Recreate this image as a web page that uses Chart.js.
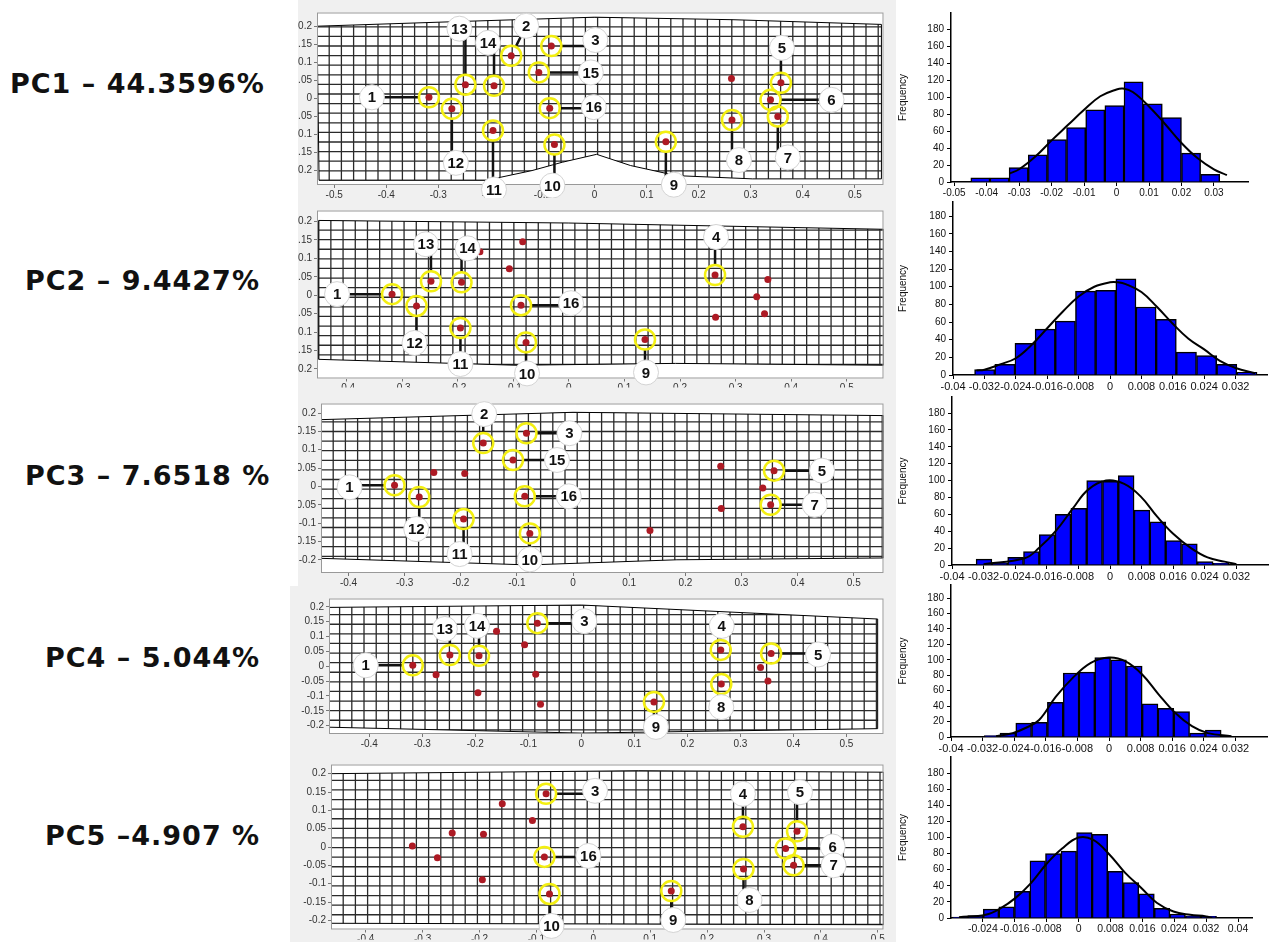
<!DOCTYPE html>
<html lang="en">
<head>
<meta charset="UTF-8">
<title>PC deformation grids and score histograms</title>
<script src="https://cdn.jsdelivr.net/npm/chart.js"></script>
<style>
  body { margin: 0; background: #fff; width: 1274px; height: 942px; position: relative; overflow: hidden; }
  .pc { position: absolute; font-family: "DejaVu Sans", sans-serif; font-weight: bold; font-size: 27px;
        letter-spacing: 1px; color: #111; white-space: nowrap; line-height: 1; transform: translateY(-50%); }
  canvas { position: absolute; display: block; }
</style>
</head>
<body>
<div class="pc" style="left:10px;top:83px">PC1 – 44.3596%</div>
<div class="pc" style="left:25px;top:280px">PC2 – 9.4427%</div>
<div class="pc" style="left:25px;top:475px">PC3 – 7.6518 %</div>
<div class="pc" style="left:45px;top:657px">PC4 – 5.044%</div>
<div class="pc" style="left:45px;top:835px">PC5 –4.907 %</div>

<script>
// landmark configuration (same 16 landmarks in every panel)
const landmarkX = [-0.318, -0.16, -0.083, 0.263, 0.358, 0.338, 0.352, 0.264, 0.137, -0.077, -0.195, -0.274, -0.248, -0.193, -0.107, -0.086];
const landmarkY = [0.003, 0.118, 0.145, 0.055, 0.043, -0.004, -0.05, -0.06, -0.12, -0.128, -0.089, -0.029, 0.038, 0.035, 0.072, -0.027];

// landmarks circled in each PC
const pc1Marked = [1, 2, 3, 5, 6, 7, 8, 9, 10, 11, 12, 13, 14, 15, 16];
const pc2Marked = [1, 4, 9, 10, 11, 12, 13, 14, 16];
const pc3Marked = [1, 2, 3, 5, 7, 10, 11, 12, 15, 16];
const pc4Marked = [1, 3, 4, 5, 8, 9, 13, 14];
const pc5Marked = [3, 4, 5, 6, 7, 8, 9, 10, 16];

// outline of the deformed grid in each PC
const pc1Mesh = [[-0.533, 0.2], [-0.281, 0.212], [0, 0.225], [0.266, 0.218], [0.551, 0.205], [0.551, -0.223], [0.303, -0.223], [0.157, -0.214], [0.069, -0.186], [0.004, -0.155], [-0.062, -0.177], [-0.12, -0.2], [-0.208, -0.227], [-0.529, -0.227]];
const pc2Mesh = [[-0.45, 0.203], [0, 0.196], [0.566, 0.179], [0.566, -0.19], [0.192, -0.185], [-0.095, -0.19], [-0.45, -0.174]];
const pc3Mesh = [[-0.449, 0.182], [0, 0.202], [0.553, 0.193], [0.553, -0.195], [0.185, -0.2], [-0.079, -0.214], [-0.449, -0.196]];
const pc4Mesh = [[-0.479, 0.198], [0, 0.206], [0.559, 0.159], [0.559, -0.21], [0, -0.225], [-0.479, -0.205]];
const pc5Mesh = [[-0.461, 0.2], [0.079, 0.208], [0.51, 0.204], [0.51, -0.212], [-0.461, -0.208]];

// tick labels
const gridTicksX1 = [-0.5, -0.4, -0.3, -0.2, -0.1, 0, 0.1, 0.2, 0.3, 0.4, 0.5];
const gridTicksX = [-0.4, -0.3, -0.2, -0.1, 0, 0.1, 0.2, 0.3, 0.4, 0.5];
const gridTicksY = [-0.2, -0.15, -0.1, -0.05, 0, 0.05, 0.1, 0.15, 0.2];
const hist1TicksX = [-0.05, -0.04, -0.03, -0.02, -0.01, 0, 0.01, 0.02, 0.03];
const histTicksX = [-0.04, -0.032, -0.024, -0.016, -0.008, 0, 0.008, 0.016, 0.024, 0.032];
const hist5TicksX = [-0.024, -0.016, -0.008, 0, 0.008, 0.016, 0.024, 0.032, 0.04];
const histTicksY = [0, 20, 40, 60, 80, 100, 120, 140, 160, 180];

// histograms of PC scores
const pc1BinStart = -0.0449, pc1BinWidth = 0.0059;
const pc1Counts = [5, 5, 17, 32, 50, 64, 85, 90, 118, 92, 76, 34, 9];
const pc1CurveX = [-0.033, -0.03, -0.025, -0.02, -0.015, -0.01, -0.005, 0, 0.002, 0.005, 0.01, 0.015, 0.02, 0.025, 0.03, 0.034];
const pc1CurveY = [10, 15, 30, 49, 67, 85, 101, 109, 110, 106, 89, 68, 46, 28, 15, 8];

const pc2BinStart = -0.0345, pc2BinWidth = 0.00514;
const pc2Counts = [6, 12, 36, 52, 61, 95, 96, 109, 77, 63, 26, 22, 12, 3];
const pc2CurveX = [-0.034, -0.032, -0.028, -0.024, -0.02, -0.016, -0.012, -0.008, -0.004, 0, 0.002, 0.004, 0.008, 0.012, 0.016, 0.02, 0.024, 0.028, 0.032, 0.037];
const pc2CurveY = [5, 6, 12, 19, 34, 53, 72, 89, 100, 105, 105, 103, 94, 77, 58, 41, 29, 16, 8, 2];

const pc3BinStart = -0.0339, pc3BinWidth = 0.004;
const pc3Counts = [7, 2, 9, 16, 36, 60, 67, 100, 99, 106, 65, 51, 29, 25, 4, 2];
const pc3CurveX = [-0.032, -0.0216, -0.018, -0.0136, -0.0094, -0.0056, -0.001, 0.0036, 0.0078, 0.012, 0.016, 0.0205, 0.0247, 0.029, 0.032];
const pc3CurveY = [1, 8, 20, 41, 67, 89, 100, 96, 81, 57, 37, 20, 9, 4, 1];

const pc4BinStart = -0.0316, pc4BinWidth = 0.004;
const pc4Counts = [2, 5, 18, 19, 45, 83, 84, 103, 100, 92, 43, 37, 33, 5, 9];
const pc4CurveX = [-0.0286, -0.0244, -0.021, -0.0177, -0.0135, -0.0093, -0.0046, 0, 0.0042, 0.0084, 0.0126, 0.0168, 0.021, 0.025, 0.031];
const pc4CurveY = [1, 5, 12, 22, 52, 76, 96, 103, 98, 81, 55, 31, 14, 5, 1];

const pc5BinStart = -0.0317, pc5BinWidth = 0.0039;
const pc5Counts = [1, 3, 11, 14, 33, 71, 80, 83, 106, 104, 58, 44, 30, 12, 5, 2, 2];
const pc5CurveX = [-0.03, -0.0233, -0.0196, -0.0158, -0.012, -0.0079, -0.0042, 0, 0.0037, 0.0079, 0.0117, 0.0158, 0.0196, 0.0238, 0.028, 0.032, 0.0335];
const pc5CurveY = [1, 4, 12, 25, 43, 68, 86, 100, 97, 78, 56, 37, 19, 8, 4, 2, 0];

// callout bubbles: [landmark, dx px, dy px]
const pc1Callouts = [[1, -57, 0], [2, 15, -30], [3, 44, -6], [5, 1, -35], [6, 61, 0], [7, 10, 41], [8, 7, 40], [9, 8, 43], [10, -2, 41], [11, 1, 59], [12, 4, 54], [13, -6, -56], [14, -6, -43], [15, 52, 0], [16, 44, -1]];
const pc2Callouts = [[1, -55, 0], [4, 1, -38], [9, 1, 33], [10, 1, 31], [11, 0, 36], [12, -2, 37], [13, -5, -37], [14, 6, -34], [16, 50, -2]];
const pc3Callouts = [[1, -45, 2], [2, 1, -29], [3, 43, 0], [5, 48, 0], [7, 44, 0], [10, 0, 26], [11, -4, 35], [12, -3, 32], [15, 44, 0], [16, 44, 0]];
const pc4Callouts = [[1, -47, 0], [3, 47, -2], [4, 1, -24], [5, 47, 1], [8, 0, 23], [9, 2, 25], [13, -5, -26], [14, -2, -30]];
const pc5Callouts = [[3, 49, -3], [4, 0, -33], [5, 3, -39], [6, 47, -2], [7, 40, 0], [8, 6, 31], [9, 2, 29], [10, 2, 32], [16, 44, -1]];

const fmt = v => String(+Number(v).toFixed(4));

function addCanvas(b) {
    const c = document.createElement('canvas');
    c.width = b.r - b.l;
    c.height = b.b - b.t;
    c.style.left = b.l + 'px';
    c.style.top = b.t + 'px';
    c.style.width = c.width + 'px';
    c.style.height = c.height + 'px';
    document.body.appendChild(c);
    return c;
}

// deformation grid, box, leader lines and number bubbles
const meshPlugin = {
    id: 'mesh',
    beforeDraw(chart) {
        const { ctx, chartArea: a } = chart;
        ctx.save();
        ctx.fillStyle = '#f0f0f0';
        ctx.fillRect(0, 0, chart.width, chart.height);
        ctx.fillStyle = '#fff';
        ctx.fillRect(a.left, a.top, a.right - a.left, a.bottom - a.top);
        ctx.restore();
    },
    beforeDatasetsDraw(chart, args, opts) {
        const { ctx, chartArea: a, scales: { x, y } } = chart;
        const pts = opts.outline.map(p => [x.getPixelForValue(p[0]), y.getPixelForValue(p[1])]);
        const outline = () => {
            ctx.beginPath();
            pts.forEach((p, i) => i ? ctx.lineTo(p[0], p[1]) : ctx.moveTo(p[0], p[1]));
            ctx.closePath();
        };
        ctx.save();
        ctx.beginPath();
        ctx.rect(a.left, a.top, a.right - a.left, a.bottom - a.top);
        ctx.clip();
        outline();
        ctx.save();
        ctx.clip();
        const xs = pts.map(p => p[0]), ys = pts.map(p => p[1]);
        const x0 = Math.min(...xs), x1 = Math.max(...xs), y0 = Math.min(...ys), y1 = Math.max(...ys);
        ctx.strokeStyle = '#2a2a2a';
        ctx.lineWidth = 1.3;
        ctx.beginPath();
        for (let px = x0; px <= x1 + 0.5; px += 12.2) { ctx.moveTo(px, y0); ctx.lineTo(px, y1); }
        for (let py = y0; py <= y1 + 0.5; py += 9.6) { ctx.moveTo(x0, py); ctx.lineTo(x1, py); }
        ctx.stroke();
        ctx.restore();
        outline();
        ctx.stroke();
        ctx.restore();

        // leader lines
        ctx.save();
        ctx.strokeStyle = '#111';
        ctx.lineWidth = 2.5;
        ctx.beginPath();
        opts.callouts.forEach(([n, dx, dy]) => {
            const px = x.getPixelForValue(landmarkX[n - 1]), py = y.getPixelForValue(landmarkY[n - 1]);
            let ex = px + dx, ey = py + dy;
            if (Math.abs(dx) <= 10) ex = px;
            else if (Math.abs(dy) <= 8) ey = py;
            const len = Math.hypot(ex - px, ey - py);
            ctx.moveTo(px + (ex - px) / len * 10, py + (ey - py) / len * 10);
            ctx.lineTo(ex, ey);
        });
        ctx.stroke();
        ctx.restore();
    },
    afterDatasetsDraw(chart, args, opts) {
        const { ctx, chartArea: a, scales: { x, y } } = chart;
        ctx.save();
        ctx.strokeStyle = '#999';
        ctx.lineWidth = 1;
        ctx.strokeRect(a.left + 0.5, a.top + 0.5, a.right - a.left - 1, a.bottom - a.top - 1);
        opts.callouts.forEach(([n, dx, dy]) => {
            const lx = x.getPixelForValue(landmarkX[n - 1]) + dx, ly = y.getPixelForValue(landmarkY[n - 1]) + dy;
            ctx.beginPath();
            ctx.arc(lx, ly, 12.5, 0, Math.PI * 2);
            ctx.fillStyle = '#fff';
            ctx.fill();
            ctx.strokeStyle = '#d4d4d4';
            ctx.lineWidth = 1;
            ctx.stroke();
            ctx.fillStyle = '#111';
            ctx.font = 'bold 15px "Liberation Sans"';
            ctx.textAlign = 'center';
            ctx.textBaseline = 'middle';
            ctx.fillText(String(n), lx, ly + 1);
        });
        ctx.restore();
    }
};

function makeGrid(p) {
    const canvas = addCanvas(p.canvas);
    const tickFont = { family: 'Liberation Sans', size: 10 };
    new Chart(canvas, {
        type: 'scatter',
        data: {
            datasets: [
                {
                    data: p.marked.map(n => ({ x: landmarkX[n - 1], y: landmarkY[n - 1] })),
                    pointRadius: 10, pointBorderWidth: 2.5,
                    pointBorderColor: '#f3ef12', pointBackgroundColor: 'rgba(0,0,0,0)',
                    order: 2
                },
                {
                    data: landmarkX.map((v, i) => ({ x: v, y: landmarkY[i] })),
                    pointRadius: 3.5, pointBorderWidth: 0, pointBackgroundColor: '#ad1a24',
                    order: 1
                }
            ]
        },
        options: {
            responsive: false, animation: false, events: [],
            layout: { padding: { top: p.area.t - p.canvas.t, right: p.canvas.r - p.area.r, left: 0, bottom: 0 } },
            plugins: {
                legend: { display: false }, tooltip: { enabled: false },
                mesh: { outline: p.outline, callouts: p.callouts }
            },
            scales: {
                x: {
                    type: 'linear', min: p.xr[0], max: p.xr[1],
                    afterBuildTicks: s => { s.ticks = p.xt.map(v => ({ value: v })); },
                    afterFit: s => { s.height = p.canvas.b - p.area.b; s.paddingLeft = 0; s.paddingRight = 0; },
                    grid: { drawOnChartArea: false, tickLength: 3, color: '#777' },
                    border: { display: false },
                    ticks: { font: tickFont, color: '#333', padding: 1, maxRotation: 0, autoSkip: false, callback: fmt }
                },
                y: {
                    type: 'linear', min: p.yr[0], max: p.yr[1],
                    afterBuildTicks: s => { s.ticks = gridTicksY.map(v => ({ value: v })); },
                    afterFit: s => { s.width = p.area.l - p.canvas.l; s.paddingTop = 0; s.paddingBottom = 0; },
                    grid: { drawOnChartArea: false, tickLength: 3, color: '#777' },
                    border: { display: false },
                    ticks: { font: tickFont, color: '#333', padding: 2, autoSkip: false, callback: fmt }
                }
            }
        },
        plugins: [meshPlugin]
    });
}

function makeHist(h) {
    const canvas = addCanvas(h.canvas);
    new Chart(canvas, {
        type: 'bar',
        data: {
            datasets: [
                {
                    type: 'line',
                    data: h.curveX.map((v, i) => ({ x: v, y: h.curveY[i] })),
                    borderColor: '#000', borderWidth: 2, pointRadius: 0, tension: 0.4, fill: false,
                    order: 0
                },
                {
                    type: 'bar',
                    data: h.counts.map((c, i) => ({ x: h.binStart + (i + 0.5) * h.binWidth, y: c })),
                    backgroundColor: '#0000ff', borderColor: '#000', borderWidth: 1.5,
                    barPercentage: 1, categoryPercentage: 1,
                    order: 1
                }
            ]
        },
        options: {
            responsive: false, animation: false, events: [],
            layout: { padding: { top: h.area.t - h.canvas.t, right: h.canvas.r - h.area.r, left: 0, bottom: 0 } },
            plugins: { legend: { display: false }, tooltip: { enabled: false } },
            scales: {
                x: {
                    type: 'linear', min: h.xr[0], max: h.xr[1], offset: false,
                    afterBuildTicks: s => { s.ticks = h.xt.map(v => ({ value: v })); },
                    afterFit: s => { s.height = h.canvas.b - h.area.b; s.paddingLeft = 0; s.paddingRight = 0; },
                    grid: { drawOnChartArea: false, tickLength: 4, color: '#000', offset: false },
                    border: { display: true, color: '#000', width: 1.5 },
                    ticks: { font: { family: 'Liberation Sans', size: h.xFont }, color: '#111', padding: 1, maxRotation: 0, minRotation: 0, autoSkip: false, callback: fmt }
                },
                y: {
                    min: 0, max: h.yMax,
                    afterBuildTicks: s => { s.ticks = histTicksY.map(v => ({ value: v })); },
                    afterFit: s => { s.width = h.area.l - h.canvas.l; s.paddingTop = 0; s.paddingBottom = 0; },
                    grid: { drawOnChartArea: false, tickLength: 4, color: '#000' },
                    border: { display: true, color: '#000', width: 1.5 },
                    title: { display: true, text: 'Frequency', font: { family: 'Liberation Sans', size: 10 }, color: '#111', padding: 4 },
                    ticks: { font: { family: 'Liberation Sans', size: 10 }, color: '#111', padding: 3, autoSkip: false }
                }
            }
        }
    });
}

makeGrid({ canvas: { l: 298, t: 0, r: 896, b: 198 }, area: { l: 317, t: 8, r: 891, b: 185 }, xr: [-0.533, 0.555], yr: [-0.24, 0.238], xt: gridTicksX1, outline: pc1Mesh, marked: pc1Marked, callouts: pc1Callouts });
makeGrid({ canvas: { l: 298, t: 198, r: 896, b: 391 }, area: { l: 317, t: 202, r: 891, b: 382 }, xr: [-0.453, 0.566], yr: [-0.226, 0.23], xt: gridTicksX, outline: pc2Mesh, marked: pc2Marked, callouts: pc2Callouts });
makeGrid({ canvas: { l: 298, t: 391, r: 896, b: 586 }, area: { l: 321, t: 395, r: 891, b: 573 }, xr: [-0.449, 0.553], yr: [-0.236, 0.226], xt: gridTicksX, outline: pc3Mesh, marked: pc3Marked, callouts: pc3Callouts });
makeGrid({ canvas: { l: 290, t: 586, r: 896, b: 752 }, area: { l: 329, t: 588, r: 889, b: 734 }, xr: [-0.476, 0.57], yr: [-0.228, 0.228], xt: gridTicksX, outline: pc4Mesh, marked: pc4Marked, callouts: pc4Callouts });
makeGrid({ canvas: { l: 290, t: 752, r: 896, b: 942 }, area: { l: 331, t: 754, r: 887, b: 932 }, xr: [-0.461, 0.51], yr: [-0.225, 0.225], xt: gridTicksX, outline: pc5Mesh, marked: pc5Marked, callouts: pc5Callouts });

makeHist({ canvas: { l: 893, t: 5, r: 1262, b: 198 }, area: { l: 951, t: 13, r: 1248, b: 182 }, xr: [-0.051, 0.0405], yMax: 199, xFont: 10, xt: hist1TicksX, binStart: pc1BinStart, binWidth: pc1BinWidth, counts: pc1Counts, curveX: pc1CurveX, curveY: pc1CurveY });
makeHist({ canvas: { l: 893, t: 198, r: 1272, b: 391 }, area: { l: 953, t: 202, r: 1267, b: 375 }, xr: [-0.04, 0.04], yMax: 196, xFont: 11, xt: histTicksX, binStart: pc2BinStart, binWidth: pc2BinWidth, counts: pc2Counts, curveX: pc2CurveX, curveY: pc2CurveY });
makeHist({ canvas: { l: 893, t: 391, r: 1272, b: 583 }, area: { l: 952, t: 397, r: 1268, b: 565 }, xr: [-0.04, 0.04], yMax: 199, xFont: 11, xt: histTicksX, binStart: pc3BinStart, binWidth: pc3BinWidth, counts: pc3Counts, curveX: pc3CurveX, curveY: pc3CurveY });
makeHist({ canvas: { l: 893, t: 583, r: 1272, b: 752 }, area: { l: 951, t: 585, r: 1267, b: 737 }, xr: [-0.04, 0.04], yMax: 197, xFont: 11, xt: histTicksX, binStart: pc4BinStart, binWidth: pc4BinWidth, counts: pc4Counts, curveX: pc4CurveX, curveY: pc4CurveY });
makeHist({ canvas: { l: 893, t: 752, r: 1262, b: 942 }, area: { l: 951, t: 757, r: 1252, b: 918 }, xr: [-0.032, 0.0435], yMax: 200, xFont: 10.5, xt: hist5TicksX, binStart: pc5BinStart, binWidth: pc5BinWidth, counts: pc5Counts, curveX: pc5CurveX, curveY: pc5CurveY });
</script>
</body>
</html>
